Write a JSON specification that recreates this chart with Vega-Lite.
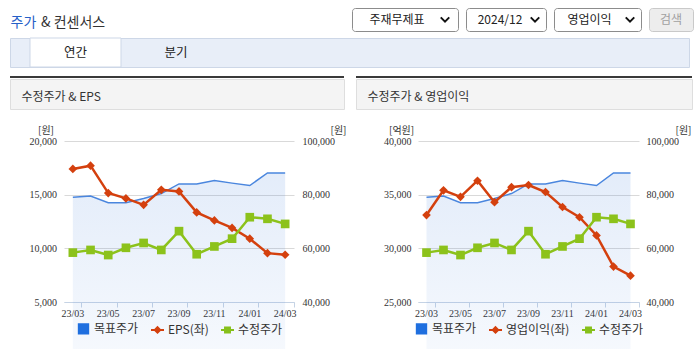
{
  "$schema": "https://vega.github.io/schema/vega-lite/v6.json",
  "padding": {"left": 9, "top": 7, "right": 0, "bottom": 0},
  "background": "white",
  "config": {
    "font": "Noto Sans CJK KR",
    "view": {"stroke": null},
    "legend": {
      "orient": "bottom", "direction": "horizontal", "symbolSize": 169, "symbolStrokeWidth": 2,
      "labelFontSize": 12, "labelColor": "#333333", "labelFont": "Noto Sans CJK KR",
      "columnPadding": 8, "labelOffset": 3, "offset": 3, "padding": 0, "symbolOpacity": 1,
      "layout": {"bottom": {"anchor": "middle"}}
    }
  },
  "datasets": {
    "d": [
      {"m": "23/03", "target": 79000, "price": 58400, "eps": 17400, "op": 33100},
      {"m": "23/04", "target": 79500, "price": 59400, "eps": 17700, "op": 35400},
      {"m": "23/05", "target": 77000, "price": 57500, "eps": 15150, "op": 34800},
      {"m": "23/06", "target": 77000, "price": 60200, "eps": 14650, "op": 36300},
      {"m": "23/07", "target": 78600, "price": 62000, "eps": 14050, "op": 34300},
      {"m": "23/08", "target": 80400, "price": 59400, "eps": 15450, "op": 35700},
      {"m": "23/09", "target": 84000, "price": 66400, "eps": 15300, "op": 35900},
      {"m": "23/10", "target": 84000, "price": 57800, "eps": 13350, "op": 35250},
      {"m": "23/11", "target": 85300, "price": 60700, "eps": 12600, "op": 33850},
      {"m": "23/12", "target": 84300, "price": 63600, "eps": 11900, "op": 32900},
      {"m": "24/01", "target": 83400, "price": 71600, "eps": 10900, "op": 31200},
      {"m": "24/02", "target": 88100, "price": 71000, "eps": 9550, "op": 28300},
      {"m": "24/03", "target": 88100, "price": 69100, "eps": 9400, "op": 27450}
    ],
    "legL": [{"s": "목표주가"}, {"s": "EPS(좌)"}, {"s": "수정주가"}],
    "legR": [{"s": "목표주가"}, {"s": "영업이익(좌)"}, {"s": "수정주가"}],
    "tabs": [{"tab": "연간"}, {"tab": "분기"}]
  },
  "spacing": 8,
  "vconcat": [
    {
      "spacing": 0,
      "vconcat": [
        {
          "spacing": 245,
          "hconcat": [
            {
              "spacing": 3.5,
              "hconcat": [
                {"width": 1, "height": 29, "data": {"values": [{"t": "주가"}]},
                 "mark": {"type": "text", "align": "left", "baseline": "middle", "fontSize": 14, "color": "#2560c8"},
                 "encoding": {"text": {"field": "t"}}},
                {"width": 1, "height": 29, "data": {"values": [{"t": "& 컨센서스"}]},
                 "mark": {"type": "text", "align": "left", "baseline": "middle", "fontSize": 14, "color": "#333333"},
                 "encoding": {"text": {"field": "t"}}}
              ]
            },
            {
              "spacing": 6,
              "hconcat": [
                {"width": 106, "height": 23, "view": {"fill": "white", "stroke": "#8c8c8c", "cornerRadius": 3},
                 "data": {"values": [{"t": "주재무제표"}]},
                 "layer": [
                   {"mark": {"type": "text", "fontSize": 12, "color": "#222222", "baseline": "middle", "dx": -8}, "encoding": {"text": {"field": "t"}}},
                   {"mark": {"type": "point", "shape": "M-1,-0.5L0,0.5L1,-0.5", "size": 72, "filled": false, "strokeWidth": 2, "color": "#111111", "opacity": 1, "xOffset": -13}, "encoding": {"x": {"value": "width"}}}
                 ]},
                {"width": 80, "height": 23, "view": {"fill": "white", "stroke": "#8c8c8c", "cornerRadius": 3},
                 "data": {"values": [{"t": "2024/12"}]},
                 "layer": [
                   {"mark": {"type": "text", "fontSize": 12, "color": "#222222", "baseline": "middle", "dx": -6}, "encoding": {"text": {"field": "t"}}},
                   {"mark": {"type": "point", "shape": "M-1,-0.5L0,0.5L1,-0.5", "size": 72, "filled": false, "strokeWidth": 2, "color": "#111111", "opacity": 1, "xOffset": -11}, "encoding": {"x": {"value": "width"}}}
                 ]},
                {"width": 87, "height": 23, "view": {"fill": "white", "stroke": "#8c8c8c", "cornerRadius": 3},
                 "data": {"values": [{"t": "영업이익"}]},
                 "layer": [
                   {"mark": {"type": "text", "fontSize": 12, "color": "#222222", "baseline": "middle", "dx": -8}, "encoding": {"text": {"field": "t"}}},
                   {"mark": {"type": "point", "shape": "M-1,-0.5L0,0.5L1,-0.5", "size": 72, "filled": false, "strokeWidth": 2, "color": "#111111", "opacity": 1, "xOffset": -11}, "encoding": {"x": {"value": "width"}}}
                 ]},
                {"width": 44, "height": 23, "view": {"fill": "#ededed", "stroke": "#c9c9c9", "cornerRadius": 3},
                 "data": {"values": [{"t": "검색"}]},
                 "mark": {"type": "text", "fontSize": 12, "color": "#a0a0a0", "baseline": "middle"},
                 "encoding": {"text": {"field": "t"}}}
              ]
            }
          ]
        },
        {
          "width": 679, "height": 29,
          "view": {"fill": "#e8eef8", "stroke": "#cdd7e7"},
          "data": {"name": "tabs"},
          "encoding": {"x": {"field": "tab", "type": "nominal", "sort": null,
            "scale": {"type": "band", "domain": ["연간", "분기"], "range": [20, 211.5], "paddingInner": 0.0945, "paddingOuter": 0},
            "axis": null}},
          "layer": [
            {"mark": {"type": "bar", "strokeWidth": 1},
             "encoding": {
               "fill": {"condition": {"test": "datum.tab === '연간'", "value": "white"}, "value": "transparent"},
               "stroke": {"condition": {"test": "datum.tab === '연간'", "value": "#cdd7e7"}, "value": "transparent"}
             }},
            {"mark": {"type": "text", "fontSize": 12.5, "color": "#222222", "baseline": "middle"},
             "encoding": {"text": {"field": "tab"}}}
          ]
        }
      ]
    },
    {
      "spacing": 9,
      "resolve": {"scale": {"x": "independent", "y": "independent", "fill": "independent", "stroke": "independent", "shape": "independent"},
                  "legend": {"fill": "independent", "stroke": "independent", "shape": "independent"}},
      "hconcat": [
        {
          "spacing": 15,
          "resolve": {"scale": {"fill": "independent", "stroke": "independent", "shape": "independent"},
                      "legend": {"fill": "independent", "stroke": "independent", "shape": "independent"}},
          "vconcat": [
            {
              "spacing": 0,
              "vconcat": [
                {"width": 334, "height": 2, "view": {"fill": "#3a3a3a", "stroke": null}, "data": {"values": []}, "mark": "point"},
                {"width": 334, "height": 30, "view": {"fill": "#f4f4f4", "stroke": "#dedede"}, "data": {"values": []}, "mark": "point",
                 "encoding": {"x": {"field": "v", "type": "quantitative", "scale": {"domain": [0, 1]},
                   "axis": {"orient": "top", "domain": false, "ticks": false, "labels": false, "grid": false,
                     "title": "수정주가 & EPS", "titleX": 11, "titleY": 17, "titleAlign": "left", "titleBaseline": "middle", "titleAngle": 0,
                     "titleFontSize": 12, "titleFontWeight": "normal", "titleColor": "#333333", "titleFont": "Noto Sans CJK KR"}}}}
              ]
            },
            {
              "spacing": 9,
              "resolve": {"scale": {"fill": "independent", "stroke": "independent", "shape": "independent"},
                          "legend": {"fill": "independent", "stroke": "independent", "shape": "independent"}},
              "vconcat": [
                {
                  "spacing": 0,
                  "resolve": {"scale": {"fill": "independent", "stroke": "independent", "shape": "independent"},
                              "legend": {"fill": "independent", "stroke": "independent", "shape": "independent"}},
                  "hconcat": [
                    {"width": 1, "height": 161, "data": {"values": []}, "mark": "point"},
                    {
                      "width": 230, "height": 161,
                      "data": {"name": "d"},
                      "encoding": {"x": {"field": "m", "type": "ordinal", "sort": null,
                        "scale": {"type": "band", "domain": ["23/03","23/04","23/05","23/06","23/07","23/08","23/09","23/10","23/11","23/12","24/01","24/02","24/03"], "paddingInner": 0, "paddingOuter": 0},
                        "axis": {"values": ["23/03","23/05","23/07","23/09","23/11","24/01","24/03"], "bandPosition": 1, "title": null,
                          "domainColor": "#c5d3e5", "tickColor": "#c5d3e5", "tickSize": 5, "labelPadding": 1, "labelAngle": 0, "labelFontSize": 10,
                          "labelFont": "Liberation Sans Narrow", "labelColor": "#333333", "grid": false, "labelOverlap": false, "labelBound": false}}},
                      "layer": [
                        {"mark": {"type": "area", "color": {"gradient": "linear", "x1": 0, "y1": 0, "x2": 0, "y2": 1, "stops": [{"offset": 0, "color": "rgba(70,130,220,0.15)"}, {"offset": 1, "color": "rgba(70,130,220,0.02)"}]}},
                         "encoding": {"y": {"field": "target", "type": "quantitative", "scale": {"domain": [40000, 100000], "nice": false, "zero": false},
                           "axis": {"orient": "right", "values": [40000, 60000, 80000, 100000], "format": ",d", "grid": false, "domain": false, "ticks": false, "labelPadding": 8,
                             "labelFontSize": 10, "labelFont": "Liberation Sans Narrow", "labelColor": "#333333", "labelOverlap": false,
                             "title": "[원]", "titleAngle": 0, "titleX": 36, "titleY": -11, "titleAlign": "left", "titleBaseline": "middle",
                             "titleFontSize": 10, "titleFontWeight": "normal", "titleFont": "Noto Sans CJK KR", "titleColor": "#333333"}}}},
                        {"mark": {"type": "line", "color": "#4a86de", "strokeWidth": 1.5},
                         "encoding": {"y": {"field": "target", "type": "quantitative", "scale": {"domain": [40000, 100000], "nice": false, "zero": false}, "axis": null}}},
                        {"mark": {"type": "line", "color": "#d4400e", "strokeWidth": 2.5, "point": {"shape": "diamond", "size": 75, "filled": true, "color": "#d4400e"}},
                         "encoding": {"y": {"field": "eps", "type": "quantitative", "scale": {"domain": [5000, 20000], "nice": false, "zero": false},
                           "axis": {"orient": "left", "values": [5000, 10000, 15000, 20000], "format": ",d", "grid": true, "gridColor": "#d9d9d9", "domain": false, "ticks": false,
                             "labelPadding": 7.5, "minExtent": 52.5, "labelFontSize": 10, "labelFont": "Liberation Sans Narrow", "labelColor": "#333333", "labelOverlap": false,
                             "title": "[원]", "titleAngle": 0, "titleX": -10.5, "titleY": -11, "titleAlign": "right", "titleBaseline": "middle",
                             "titleFontSize": 10, "titleFontWeight": "normal", "titleFont": "Noto Sans CJK KR", "titleColor": "#333333"}}}},
                        {"mark": {"type": "line", "color": "#8cc21b", "strokeWidth": 2.5, "point": {"shape": "square", "size": 75, "filled": true, "color": "#8cc21b"}},
                         "encoding": {"y": {"field": "price", "type": "quantitative", "scale": {"domain": [40000, 100000], "nice": false, "zero": false}, "axis": null}}},
                        {"data": {"name": "legL"}, "mark": {"type": "point", "opacity": 0, "filled": true},
                         "encoding": {
                           "fill": {"field": "s", "type": "nominal", "scale": {"domain": ["목표주가", "EPS(좌)", "수정주가"], "range": ["#1f6fdf", "#d4400e", "#86c01b"]}, "legend": {"title": null}},
                           "stroke": {"field": "s", "type": "nominal", "scale": {"domain": ["목표주가", "EPS(좌)", "수정주가"], "range": ["#1f6fdf", "#d4400e", "#86c01b"]}, "legend": {"title": null}},
                           "shape": {"field": "s", "type": "nominal", "scale": {"domain": ["목표주가", "EPS(좌)", "수정주가"], "range": ["M-0.72,-0.72H0.72V0.72H-0.72Z", "M-1,0H1M0,-0.42L0.42,0L0,0.42L-0.42,0Z", "M-1,0H1M-0.38,-0.38H0.38V0.38H-0.38Z"]}, "legend": {"title": null}}
                         }}
                      ],
                      "resolve": {"scale": {"y": "independent"}, "axis": {"y": "independent"}}
                    }
                  ]
                },
                {"width": 334, "height": 3, "view": {"fill": "#c8c8c8", "stroke": null}, "data": {"values": []}, "mark": "point"}
              ]
            }
          ]
        },
        {
          "spacing": 15,
          "resolve": {"scale": {"fill": "independent", "stroke": "independent", "shape": "independent"},
                      "legend": {"fill": "independent", "stroke": "independent", "shape": "independent"}},
          "vconcat": [
            {
              "spacing": 0,
              "vconcat": [
                {"width": 336, "height": 2, "view": {"fill": "#3a3a3a", "stroke": null}, "data": {"values": []}, "mark": "point"},
                {"width": 336, "height": 30, "view": {"fill": "#f4f4f4", "stroke": "#dedede"}, "data": {"values": []}, "mark": "point",
                 "encoding": {"x": {"field": "v", "type": "quantitative", "scale": {"domain": [0, 1]},
                   "axis": {"orient": "top", "domain": false, "ticks": false, "labels": false, "grid": false,
                     "title": "수정주가 & 영업이익", "titleX": 11, "titleY": 17, "titleAlign": "left", "titleBaseline": "middle", "titleAngle": 0,
                     "titleFontSize": 12, "titleFontWeight": "normal", "titleColor": "#333333", "titleFont": "Noto Sans CJK KR"}}}}
              ]
            },
            {
              "spacing": 9,
              "resolve": {"scale": {"fill": "independent", "stroke": "independent", "shape": "independent"},
                          "legend": {"fill": "independent", "stroke": "independent", "shape": "independent"}},
              "vconcat": [
                {
                  "spacing": 0,
                  "resolve": {"scale": {"fill": "independent", "stroke": "independent", "shape": "independent"},
                              "legend": {"fill": "independent", "stroke": "independent", "shape": "independent"}},
                  "hconcat": [
                    {"width": 1, "height": 161, "data": {"values": []}, "mark": "point"},
                    {
                      "width": 221, "height": 161,
                      "data": {"name": "d"},
                      "encoding": {"x": {"field": "m", "type": "ordinal", "sort": null,
                        "scale": {"type": "band", "domain": ["23/03","23/04","23/05","23/06","23/07","23/08","23/09","23/10","23/11","23/12","24/01","24/02","24/03"], "paddingInner": 0, "paddingOuter": 0},
                        "axis": {"values": ["23/03","23/05","23/07","23/09","23/11","24/01","24/03"], "bandPosition": 1, "title": null,
                          "domainColor": "#c5d3e5", "tickColor": "#c5d3e5", "tickSize": 5, "labelPadding": 1, "labelAngle": 0, "labelFontSize": 10,
                          "labelFont": "Liberation Sans Narrow", "labelColor": "#333333", "grid": false, "labelOverlap": false, "labelBound": false}}},
                      "layer": [
                        {"mark": {"type": "area", "color": {"gradient": "linear", "x1": 0, "y1": 0, "x2": 0, "y2": 1, "stops": [{"offset": 0, "color": "rgba(70,130,220,0.15)"}, {"offset": 1, "color": "rgba(70,130,220,0.02)"}]}},
                         "encoding": {"y": {"field": "target", "type": "quantitative", "scale": {"domain": [40000, 100000], "nice": false, "zero": false},
                           "axis": {"orient": "right", "values": [40000, 60000, 80000, 100000], "format": ",d", "grid": false, "domain": false, "ticks": false, "labelPadding": 7,
                             "labelFontSize": 10, "labelFont": "Liberation Sans Narrow", "labelColor": "#333333", "labelOverlap": false,
                             "title": "[원]", "titleAngle": 0, "titleX": 36, "titleY": -11, "titleAlign": "left", "titleBaseline": "middle",
                             "titleFontSize": 10, "titleFontWeight": "normal", "titleFont": "Noto Sans CJK KR", "titleColor": "#333333"}}}},
                        {"mark": {"type": "line", "color": "#4a86de", "strokeWidth": 1.5},
                         "encoding": {"y": {"field": "target", "type": "quantitative", "scale": {"domain": [40000, 100000], "nice": false, "zero": false}, "axis": null}}},
                        {"mark": {"type": "line", "color": "#d4400e", "strokeWidth": 2.5, "point": {"shape": "diamond", "size": 75, "filled": true, "color": "#d4400e"}},
                         "encoding": {"y": {"field": "op", "type": "quantitative", "scale": {"domain": [25000, 40000], "nice": false, "zero": false},
                           "axis": {"orient": "left", "values": [25000, 30000, 35000, 40000], "format": ",d", "grid": true, "gridColor": "#d9d9d9", "domain": false, "ticks": false,
                             "labelPadding": 7, "minExtent": 61, "labelFontSize": 10, "labelFont": "Liberation Sans Narrow", "labelColor": "#333333", "labelOverlap": false,
                             "title": "[억원]", "titleAngle": 0, "titleX": -4.3, "titleY": -11, "titleAlign": "right", "titleBaseline": "middle",
                             "titleFontSize": 10, "titleFontWeight": "normal", "titleFont": "Noto Sans CJK KR", "titleColor": "#333333"}}}},
                        {"mark": {"type": "line", "color": "#8cc21b", "strokeWidth": 2.5, "point": {"shape": "square", "size": 75, "filled": true, "color": "#8cc21b"}},
                         "encoding": {"y": {"field": "price", "type": "quantitative", "scale": {"domain": [40000, 100000], "nice": false, "zero": false}, "axis": null}}},
                        {"data": {"name": "legR"}, "mark": {"type": "point", "opacity": 0, "filled": true},
                         "encoding": {
                           "fill": {"field": "s", "type": "nominal", "scale": {"domain": ["목표주가", "영업이익(좌)", "수정주가"], "range": ["#1f6fdf", "#d4400e", "#86c01b"]}, "legend": {"title": null}},
                           "stroke": {"field": "s", "type": "nominal", "scale": {"domain": ["목표주가", "영업이익(좌)", "수정주가"], "range": ["#1f6fdf", "#d4400e", "#86c01b"]}, "legend": {"title": null}},
                           "shape": {"field": "s", "type": "nominal", "scale": {"domain": ["목표주가", "영업이익(좌)", "수정주가"], "range": ["M-0.72,-0.72H0.72V0.72H-0.72Z", "M-1,0H1M0,-0.42L0.42,0L0,0.42L-0.42,0Z", "M-1,0H1M-0.38,-0.38H0.38V0.38H-0.38Z"]}, "legend": {"title": null}}
                         }}
                      ],
                      "resolve": {"scale": {"y": "independent"}, "axis": {"y": "independent"}}
                    }
                  ]
                },
                {"width": 336, "height": 3, "view": {"fill": "#c8c8c8", "stroke": null}, "data": {"values": []}, "mark": "point"}
              ]
            }
          ]
        }
      ]
    }
  ]
}
